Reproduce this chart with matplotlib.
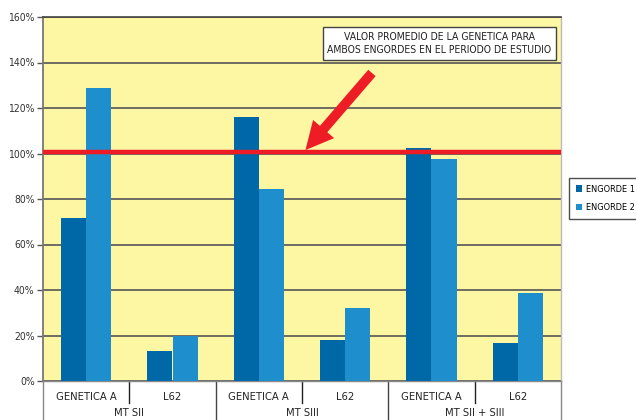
import matplotlib
matplotlib.use("Agg")
import matplotlib.pyplot as plt
import numpy as np

plt.rcParams['font.family'] = ['DejaVu Sans']
plt.rcParams['font.stretch'] = 'condensed'

categories = ["GENETICA A", "L62", "GENETICA A", "L62", "GENETICA A", "L62"]
groups = ["MT SII", "MT SIII", "MT SII + SIII"]
engorde1 = [71.6, 13.2, 116.0, 18.0, 102.4, 16.7]
engorde2 = [128.8, 19.8, 84.4, 32.0, 97.6, 38.7]
series_names = ["ENGORDE 1", "ENGORDE 2"]
promedio = 100.7
yticks = [0, 20, 40, 60, 80, 100, 120, 140, 160]
annotation = "VALOR PROMEDIO DE LA GENETICA PARA\nAMBOS ENGORDES EN EL PERIODO DE ESTUDIO"

c1 = "#0068A6"
c2 = "#1E8FCC"
bg = "#FDF6A3"

W, H = 636, 420
fig = plt.figure(figsize=(6.36, 4.2), dpi=100)
ax = fig.add_axes([43 / W, (H - 381) / H, 518 / W, 364 / H])
ax.set_facecolor(bg)

n = len(categories)
x = np.arange(n)
bw = 0.29
ax.bar(x - bw / 2, engorde1, bw, color=c1, label=series_names[0], zorder=3)
ax.bar(x + bw / 2, engorde2, bw, color=c2, label=series_names[1], zorder=3)

ax.set_xlim(-0.5, n - 0.5)
ax.set_ylim(0, 160)
ax.set_yticks(yticks)
ax.set_yticklabels([f"{v}%" for v in yticks], fontsize=7.5, color="#333333")
ax.set_xticks([])
ax.yaxis.grid(True, color="#555555", lw=1.2, zorder=1)
ax.tick_params(axis='y', length=4, width=1, color="#555555", pad=2)
ax.spines["left"].set_color("#777777")
ax.spines["left"].set_linewidth(1.3)
ax.spines["top"].set_color("#444444")
ax.spines["top"].set_linewidth(1.2)
ax.spines["right"].set_color("#BBBBBB")
ax.spines["right"].set_linewidth(1.0)
ax.spines["bottom"].set_color("#888888")
ax.spines["bottom"].set_linewidth(1.0)

# red average line
ax.axhline(promedio, color="#EE1C25", lw=3.2, zorder=4)

# arrow
ax.annotate("", xy=(2.54, promedio + 0.8), xytext=(3.31, 135.4),
            arrowprops=dict(arrowstyle="simple,head_length=2.0,head_width=2.0,tail_width=0.7",
                            color="#EE1C25", lw=0, shrinkA=0, shrinkB=0), zorder=5)

# annotation box
ax.text(4.09, 148.4, annotation, ha="center", va="center", fontsize=7.5,
        color="#222222", linespacing=1.45, zorder=6,
        bbox=dict(boxstyle="square,pad=0.45", fc="white", ec="#444444", lw=1.0))

# category labels below
trans = ax.get_xaxis_transform()
for i, c in enumerate(categories):
    ax.text(i, -16 / 364, c, transform=trans, ha="center", va="center",
            fontsize=8, color="#222222", clip_on=False)
for k in range(n + 1):
    xpos = k - 0.5
    if k % 2 == 0:
        ymin = -45 / 364
        col = "#444444" if 0 < k < n else "#888888"
    else:
        ymin = -22 / 364
        col = "#222222"
    ax.plot([xpos, xpos], [0, ymin], transform=trans, color=col, lw=1.0,
            clip_on=False, zorder=2)
for g, name in enumerate(groups):
    ax.text(2 * g + 0.5, -37.5 / 364, name, transform=trans, ha="center", va="bottom",
            fontsize=8, color="#222222", clip_on=False)

# legend
leg = fig.legend(loc="upper left", bbox_to_anchor=(569 / W, (H - 178) / H),
                 frameon=True, fontsize=6.6, handlelength=0.7, handleheight=0.7,
                 handletextpad=0.35, borderpad=0.75, labelspacing=1.0, fancybox=False,
                 borderaxespad=0)
leg.get_frame().set_edgecolor("#222222")
leg.get_frame().set_linewidth(1.0)

fig.savefig("out.png", dpi=100)
